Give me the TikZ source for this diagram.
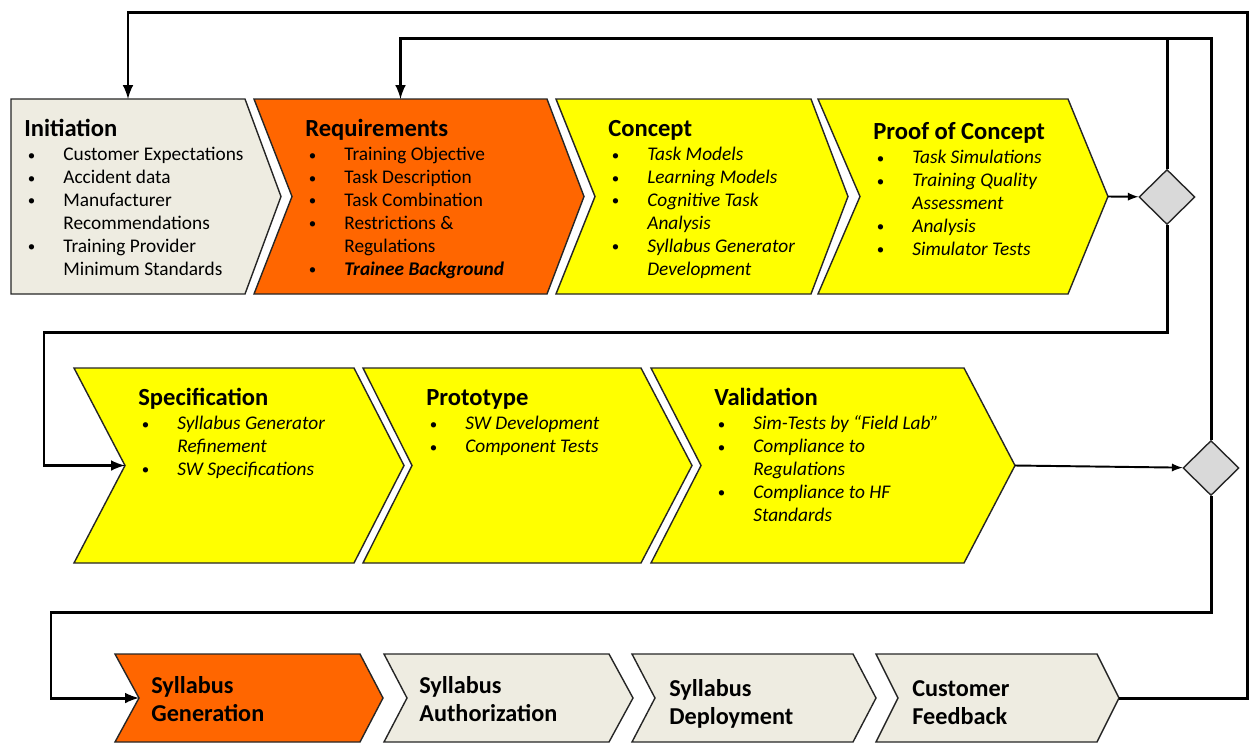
\documentclass[tikz,border=0pt]{standalone}
\usepackage{fontspec}
\setmainfont{Carlito}
\usetikzlibrary{shapes.geometric}

\definecolor{paper}{HTML}{EEECE1}
\definecolor{hot}{HTML}{FF6600}
\definecolor{warm}{HTML}{FFFF00}
\definecolor{gate}{HTML}{D9D9D9}

\newcommand{\bul}{\hspace*{0.07cm}\makebox[0.71cm][l]{\raisebox{0.4pt}{\fontsize{8.5}{8.5}\selectfont\textbullet}}}
\newcommand{\cont}{\hspace*{0.78cm}}
\newcommand{\stagetitle}{\fontsize{14}{14}\selectfont\bfseries}

% fill, name, left, right, top, bottom, tip depth, notch depth
\newcommand{\drawstage}[8]{%
  \draw[stage,fill=#1] (#3,#5) -- (#4,#5) -- ({#4+#7},{(#5+#6)/2}) -- (#4,#6) -- (#3,#6) -- ({#3+#8},{(#5+#6)/2}) -- cycle;
  \coordinate (#2-top) at ({(#3+#4)/2},#5);
  \coordinate (#2-tip) at ({#4+#7},{(#5+#6)/2});
  \coordinate (#2-in) at ({#3+#8},{(#5+#6)/2});
}

\begin{document}
\begin{tikzpicture}[x=0.02cm,y=-0.02cm,
  stage/.style={draw=black!85,line width=0.8pt},
  txt/.style={anchor=base west,inner sep=0pt,font=\fontsize{11}{13}\selectfont},
  btxt/.style={anchor=base west,inner sep=0pt,font=\fontsize{13.8}{16.4}\selectfont\bfseries},
  gatebox/.style={diamond,draw=black!85,fill=gate,line width=0.8pt,minimum width=1.12cm,minimum height=1.1cm,inner sep=0pt},
  loopline/.style={line width=1.7pt},
  flow/.style={loopline,-latex},
  link/.style={line width=1.1pt,-latex}]
\useasboundingbox (0,0) rectangle (1249,745);

% first row
\drawstage{paper}{init}{11}{245}{99}{294}{36}{0}
\drawstage{hot}{req}{254}{547}{99}{294}{37}{38}
\drawstage{warm}{con}{556}{811}{99}{294}{37}{39}
\drawstage{warm}{poc}{818}{1068}{99}{294}{40}{42}

\node[txt] (init) at (24,136) {\begin{tabular}[t]{@{}l@{}}
  {\stagetitle Initiation}\\[1.2pt]
  \bul Customer Expectations\\
  \bul Accident data\\
  \bul Manufacturer\\
  \cont Recommendations\\
  \bul Training Provider\\
  \cont Minimum Standards
\end{tabular}};
\node[txt] (req) at (305,136) {\begin{tabular}[t]{@{}l@{}}
  {\stagetitle Requirements}\\[1.2pt]
  \bul Training Objective\\
  \bul Task Description\\
  \bul Task Combination\\
  \bul Restrictions \&\\
  \cont Regulations\\
  \bul\textbf{\textit{Trainee Background}}
\end{tabular}};
\node[txt] (con) at (608,136) {\begin{tabular}[t]{@{}l@{}}
  {\stagetitle Concept}\\[1.2pt]
  \bul\textit{Task Models}\\
  \bul\textit{Learning Models}\\
  \bul\textit{Cognitive Task}\\
  \cont\textit{Analysis}\\
  \bul\textit{Syllabus Generator}\\
  \cont\textit{Development}
\end{tabular}};
\node[txt] (poc) at (873,139) {\begin{tabular}[t]{@{}l@{}}
  {\stagetitle Proof of Concept}\\[1.2pt]
  \bul\textit{Task Simulations}\\
  \bul\textit{Training Quality}\\
  \cont\textit{Assessment}\\
  \bul\textit{Analysis}\\
  \bul\textit{Simulator Tests}
\end{tabular}};

% second row
\drawstage{warm}{spec}{74}{354}{368}{563}{50}{51}
\drawstage{warm}{proto}{363}{641}{368}{563}{51}{49}
\drawstage{warm}{val}{651}{964}{368}{563}{51}{50}

\node[txt] (spec) at (138,405) {\begin{tabular}[t]{@{}l@{}}
  {\stagetitle Specification}\\[1.2pt]
  \bul\textit{Syllabus Generator}\\
  \cont\textit{Refinement}\\
  \bul\textit{SW Specifications}
\end{tabular}};
\node[txt] (proto) at (426,405) {\begin{tabular}[t]{@{}l@{}}
  {\stagetitle Prototype}\\[1.2pt]
  \bul\textit{SW Development}\\
  \bul\textit{Component Tests}
\end{tabular}};
\node[txt] (val) at (714,405) {\begin{tabular}[t]{@{}l@{}}
  {\stagetitle Validation}\\[1.2pt]
  \bul\textit{Sim-Tests by “Field Lab”}\\
  \bul\textit{Compliance to}\\
  \cont\textit{Regulations}\\
  \bul\textit{Compliance to HF}\\
  \cont\textit{Standards}
\end{tabular}};

% third row
\drawstage{hot}{gen}{115}{360}{654}{742}{23}{24}
\drawstage{paper}{auth}{384}{609}{654}{742}{24}{23}
\drawstage{paper}{dep}{632}{853}{654}{742}{23}{23}
\drawstage{paper}{fb}{876}{1097}{654}{742}{22}{22}

\node[btxt] (gen) at (151,693) {\begin{tabular}[t]{@{}l@{}}Syllabus\\Generation\end{tabular}};
\node[btxt] (auth) at (419,693) {\begin{tabular}[t]{@{}l@{}}Syllabus\\Authorization\end{tabular}};
\node[btxt] (dep) at (669,696) {\begin{tabular}[t]{@{}l@{}}Syllabus\\Deployment\end{tabular}};
\node[btxt] (cust) at (912,696) {\begin{tabular}[t]{@{}l@{}}Customer\\Feedback\end{tabular}};

% decision points
\node[gatebox] (g1) at (1167,197) {};
\node[gatebox] (g2) at (1211,468) {};

\draw[link] (poc-tip) -- (g1);
\draw[link] (val-tip) -- (g2);

% feedback loops
\coordinate (outer) at (1247,12);
\coordinate (inner) at (1211,38);
\coordinate (back1) at (44,332);
\coordinate (back2) at (51,612);

\draw[flow] (fb-tip) -| (outer) -| (init-top);
\draw[flow] (g2.north) -- (inner) -| (req-top);
\draw[loopline] (g1.north) -- (g1.north |- inner);
\draw[flow] (g1.south) |- (back1) |- (spec-in);
\draw[flow] (g2.south) |- (back2) |- (gen-in);

\end{tikzpicture}
\end{document}
